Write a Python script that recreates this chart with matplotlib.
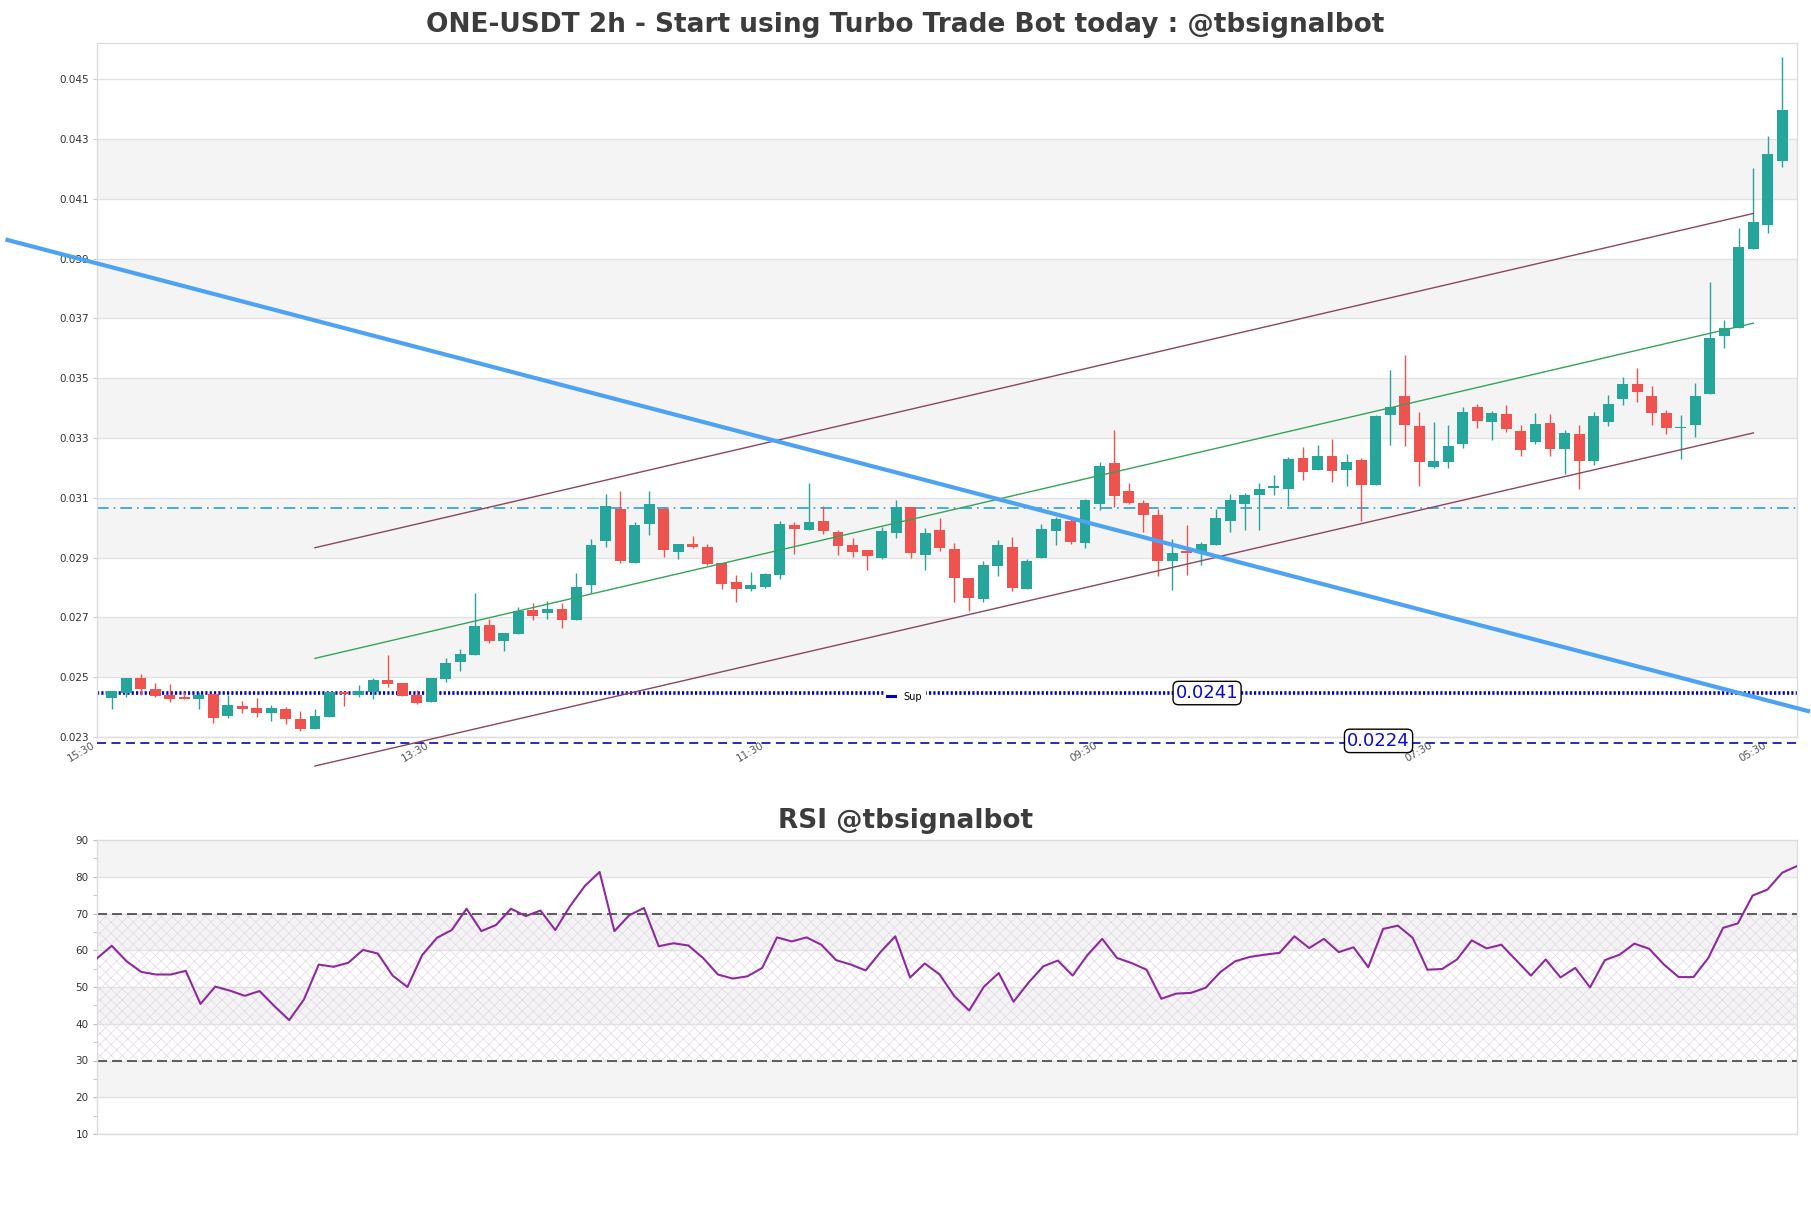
import numpy as np
import matplotlib
matplotlib.use("Agg")
import matplotlib.pyplot as plt
from matplotlib.lines import Line2D

# ---------------- data ----------------
opens = [0.02431,0.02447,0.02498,0.02460,0.02440,0.02434,0.02426,0.02445,0.02370,0.02403,
0.02396,0.02380,0.02395,0.02359,0.02327,0.02367,0.02449,0.02442,0.02449,0.02490,
0.02482,0.02440,0.02417,0.02493,0.02551,0.02575,0.02674,0.02622,0.02645,0.02724,
0.02715,0.02728,0.02691,0.02809,0.02955,0.03064,0.02882,0.03011,0.03064,0.02919,
0.02944,0.02934,0.02881,0.02820,0.02794,0.02800,0.02841,0.03008,0.02991,0.03024,
0.02985,0.02941,0.02924,0.02898,0.02981,0.03068,0.02909,0.02991,0.02928,0.02831,
0.02761,0.02872,0.02934,0.02794,0.02900,0.02989,0.03022,0.02950,0.03078,0.03217,
0.03124,0.03083,0.03044,0.02887,0.02922,0.02914,0.02942,0.03022,0.03080,0.03109,
0.03134,0.03128,0.03233,0.03192,0.03240,0.03194,0.03227,0.03144,0.03378,0.03441,
0.03341,0.03204,0.03221,0.03281,0.03404,0.03355,0.03380,0.03324,0.03287,0.03351,
0.03264,0.03314,0.03222,0.03355,0.03429,0.03481,0.03442,0.03384,0.03332,0.03342,
0.03448,0.03642,0.03668,0.03933,0.04011,0.04225]
highs = [0.02455,0.02498,0.02511,0.02482,0.02477,0.02451,0.02450,0.02445,0.02440,0.02422,
0.02429,0.02408,0.02401,0.02386,0.02393,0.02449,0.02449,0.02473,0.02496,0.02574,
0.02482,0.02456,0.02496,0.02563,0.02593,0.02780,0.02693,0.02648,0.02735,0.02749,
0.02754,0.02748,0.02850,0.02961,0.03113,0.03124,0.03019,0.03124,0.03069,0.02947,
0.02972,0.02947,0.02881,0.02841,0.02853,0.02848,0.03021,0.03020,0.03151,0.03074,
0.02991,0.02967,0.02924,0.03001,0.03094,0.03068,0.03000,0.03031,0.02948,0.02831,
0.02887,0.02958,0.02970,0.02895,0.03011,0.03035,0.03028,0.03095,0.03220,0.03328,
0.03148,0.03094,0.03063,0.02961,0.03008,0.02952,0.03061,0.03114,0.03117,0.03148,
0.03177,0.03235,0.03270,0.03277,0.03297,0.03248,0.03233,0.03378,0.03528,0.03578,
0.03387,0.03355,0.03343,0.03405,0.03414,0.03391,0.03411,0.03342,0.03384,0.03380,
0.03328,0.03342,0.03387,0.03444,0.03503,0.03534,0.03473,0.03395,0.03378,0.03484,
0.03823,0.03695,0.04003,0.04203,0.04309,0.04573]
lows = [0.02393,0.02434,0.02440,0.02434,0.02417,0.02426,0.02393,0.02347,0.02365,0.02380,
0.02367,0.02354,0.02342,0.02320,0.02327,0.02367,0.02404,0.02434,0.02426,0.02468,
0.02437,0.02411,0.02417,0.02484,0.02521,0.02573,0.02613,0.02589,0.02645,0.02691,
0.02695,0.02665,0.02691,0.02780,0.02935,0.02883,0.02882,0.02974,0.02902,0.02894,
0.02933,0.02875,0.02794,0.02752,0.02789,0.02797,0.02828,0.02911,0.02991,0.02978,
0.02908,0.02902,0.02859,0.02895,0.02967,0.02897,0.02859,0.02922,0.02750,0.02722,
0.02750,0.02839,0.02787,0.02794,0.02897,0.02942,0.02947,0.02932,0.03059,0.03070,
0.03080,0.02985,0.02839,0.02792,0.02842,0.02874,0.02942,0.02985,0.02991,0.02991,
0.03108,0.03074,0.03161,0.03192,0.03152,0.03139,0.03022,0.03144,0.03278,0.03272,
0.03139,0.03198,0.03198,0.03267,0.03335,0.03294,0.03320,0.03240,0.03280,0.03240,
0.03180,0.03130,0.03210,0.03339,0.03409,0.03422,0.03345,0.03312,0.03230,0.03302,
0.03448,0.03601,0.03668,0.03931,0.03987,0.04205]
closes = [0.02453,0.02498,0.02460,0.02437,0.02427,0.02426,0.02440,0.02364,0.02406,0.02393,
0.02380,0.02396,0.02360,0.02327,0.02369,0.02449,0.02445,0.02453,0.02490,0.02478,
0.02437,0.02414,0.02496,0.02549,0.02576,0.02672,0.02622,0.02648,0.02721,0.02705,
0.02728,0.02692,0.02803,0.02941,0.03074,0.02889,0.03008,0.03078,0.02924,0.02944,
0.02935,0.02879,0.02812,0.02794,0.02808,0.02844,0.03011,0.02994,0.03018,0.02988,
0.02939,0.02918,0.02904,0.02988,0.03070,0.02914,0.02983,0.02932,0.02831,0.02764,
0.02874,0.02943,0.02798,0.02890,0.02994,0.03028,0.02952,0.03091,0.03205,0.03105,
0.03081,0.03044,0.02887,0.02914,0.02917,0.02944,0.03031,0.03091,0.03111,0.03131,
0.03139,0.03231,0.03185,0.03240,0.03191,0.03220,0.03144,0.03374,0.03403,0.03344,
0.03221,0.03223,0.03274,0.03388,0.03358,0.03385,0.03329,0.03260,0.03348,0.03264,
0.03318,0.03222,0.03375,0.03414,0.03481,0.03455,0.03385,0.03334,0.03337,0.03442,
0.03634,0.03668,0.03939,0.04022,0.04251,0.04398]

rsi = [57.8, 61.2, 57.0, 54.1, 53.4, 53.4, 54.4, 45.4, 50.1, 49.0, 47.6, 48.9, 44.8, 41.0,
       46.6, 56.1, 55.5, 56.6, 60.1, 59.1, 53.1, 50.0, 58.7, 63.4, 65.5, 71.3, 65.2, 66.9,
       71.3, 69.3, 70.8, 65.5, 72.0, 77.5, 81.3,
       65.2, 69.5, 71.5, 61.1, 61.9, 61.3, 57.9, 53.4, 52.3, 52.9, 55.2, 63.5, 62.4, 63.5,
       61.5, 57.3, 56.1, 54.5, 59.5, 63.8, 52.6, 56.4, 53.4, 47.5, 43.6, 50.1, 53.8, 46.0,
       51.1, 55.6, 57.2, 53.1, 58.7, 63.1, 57.9, 56.5, 54.7, 46.8, 48.2,
       48.4, 49.8, 54.1, 57.0, 58.2, 58.8, 59.3, 63.8, 60.6, 63.1, 59.5, 60.8, 55.4, 65.8,
       66.7, 63.4, 54.7, 54.9, 57.5, 62.7, 60.5, 61.5, 57.3, 53.1, 57.5, 52.6, 55.2, 49.9,
       57.3, 58.8, 61.8, 60.4, 56.1, 52.7, 52.7, 57.9, 66.1, 67.3, 74.9, 76.5, 81.1, 82.9]

tick_pos = [-1, 22, 45, 68, 91, 114]
tick_labels = ["15:30", "13:30", "11:30", "09:30", "07:30", "05:30"]
price_ticks = [0.023, 0.025, 0.027, 0.029, 0.031, 0.033, 0.035, 0.037, 0.039, 0.041, 0.043, 0.045]

# trend lines (x index, price)
trend_x = [-7.3, 116.9]
trend_y = [0.03964, 0.02385]
chan_x = [14, 113]
chan_upper = [0.02933, 0.04051]
chan_mid = [0.02563, 0.03684]
chan_lower = [0.02203, 0.03317]

resist_level = 0.03067
sup_level = 0.02447
sup_label = "0.0241"
low_level = 0.02281
low_label = "0.0224"

title = "ONE-USDT 2h - Start using Turbo Trade Bot today : @tbsignalbot"
rsi_title = "RSI @tbsignalbot"

# ---------------- figure ----------------
W, H = 1811, 1208
fig = plt.figure(figsize=(W / 100, H / 100), dpi=100)
fig.patch.set_facecolor("white")

ax = fig.add_axes([97 / W, 1 - 737 / H, 1700 / W, 694 / H])
ax2 = fig.add_axes([97 / W, 1 - 1134 / H, 1700 / W, 294 / H])

n = len(opens)
x = np.arange(n)
o = np.array(opens); h = np.array(highs); l = np.array(lows); c = np.array(closes)
up = c >= o
green = "#26a69a"
red = "#ef5350"
cols = np.where(up, green, red)

ax.set_xlim(-1, n)
ax.set_ylim(0.02308, 0.04621)

# background bands
for lo in [0.025, 0.029, 0.033, 0.037, 0.041]:
    ax.axhspan(lo, lo + 0.002, color="#f4f4f4", zorder=0, lw=0)
for t in price_ticks:
    ax.axhline(t, color="#e2e2e2", lw=1.0, zorder=0.5)

# candles
ax.vlines(x, l, h, colors=cols, lw=1.0, zorder=3)
body_lo = np.minimum(o, c)
body_h = np.maximum(np.abs(c - o), 0.00004)
ax.bar(x, body_h, bottom=body_lo, width=0.75, color=cols, zorder=4, lw=0)

# lines
ax.axhline(resist_level, color="#2a9fd6", lw=1.2, ls=(0, (7, 3, 1, 3)), zorder=2)
ax.axhline(sup_level, color="#0000cc", lw=2.6, ls=(0, (0.6, 0.6)), zorder=2)
ax.axhline(low_level, color="#1c1ca6", lw=1.3, ls=(0, (5, 3)), zorder=2, clip_on=False)

ax.plot(chan_x, chan_upper, color="#8a4660", lw=1.0, zorder=5, clip_on=False)
ax.plot(chan_x, chan_mid, color="#35a35a", lw=1.0, zorder=5, clip_on=False)
ax.plot(chan_x, chan_lower, color="#8a4660", lw=1.0, zorder=5, clip_on=False)
ax.plot(trend_x, trend_y, color="#4da3f3", lw=3.0, zorder=6, clip_on=False,
        solid_capstyle="butt")

bbox = dict(boxstyle="round,pad=0.15,rounding_size=0.3", fc="white", ec="black", lw=1)
ax.text(75.4, sup_level, sup_label, color="#0a0ad0", fontsize=13, ha="center",
        va="center", bbox=bbox, zorder=8)
ax.text(87.2, low_level + 0.00006, low_label, color="#0a0ad0", fontsize=13, ha="center",
        va="center", bbox=bbox, zorder=8, clip_on=False)

handle = Line2D([0], [0], color="#0000cc", lw=2.2)
leg = ax.legend([handle], ["Sup"], loc="center", bbox_to_anchor=(0.475, 0.058),
                fontsize=7, frameon=True, handlelength=0.8, handletextpad=0.8,
                borderpad=0.3, borderaxespad=0)
leg.get_frame().set_facecolor("white")
leg.get_frame().set_edgecolor("white")
leg.get_frame().set_alpha(1)
leg.set_zorder(7)

ax.set_yticks(price_ticks)
ax.set_yticklabels([f"{t:.3f}" for t in price_ticks])
ax.set_xticks(tick_pos)
ax.set_xticklabels(tick_labels, rotation=30, ha="right")
ax.tick_params(axis="y", labelsize=7.5, labelcolor="#333333", length=3, color="#cccccc", pad=3)
ax.tick_params(axis="x", labelsize=7.5, labelcolor="#555555", length=0, pad=2)
for s in ax.spines.values():
    s.set_color("#dddddd")
    s.set_linewidth(1)

# ---------------- RSI ----------------
ax2.set_xlim(0, n - 1)
ax2.set_ylim(10, 90)
for lo in [20, 40, 60, 80]:
    ax2.axhspan(lo, lo + 10, color="#f4f4f4", zorder=0, lw=0)
for t in range(10, 100, 10):
    ax2.axhline(t, color="#e2e2e2", lw=1.0, zorder=0.5)
plt.rcParams["hatch.linewidth"] = 0.5
ax2.fill_between([0, n - 1], 30, 70, facecolor="none", hatch="xxx",
                 edgecolor="#e2d8e8", lw=0, zorder=1)
ax2.axhline(70, color="#444444", lw=1.2, ls=(0, (6, 3)), zorder=2)
ax2.axhline(30, color="#444444", lw=1.2, ls=(0, (6, 3)), zorder=2)
ax2.plot(x, rsi, color="#8e2a9e", lw=1.5, zorder=3)
ax2.set_yticks(range(10, 100, 10))
ax2.set_yticks(range(15, 90, 10), minor=True)
ax2.set_xticks([])
ax2.tick_params(axis="y", which="both", labelsize=7.5, labelcolor="#333333",
                length=3, color="#bbbbbb", pad=3)
for s in ax2.spines.values():
    s.set_color("#dddddd")
    s.set_linewidth(1)

fig.text(0.5, 1 - 25 / H, title, ha="center", va="center", fontsize=19,
         weight="bold", color="#3c3c3c")
fig.text(0.5, 1 - 821 / H, rsi_title, ha="center", va="center", fontsize=19,
         weight="bold", color="#3c3c3c")

fig.savefig("out.png", dpi=100, facecolor="white")
